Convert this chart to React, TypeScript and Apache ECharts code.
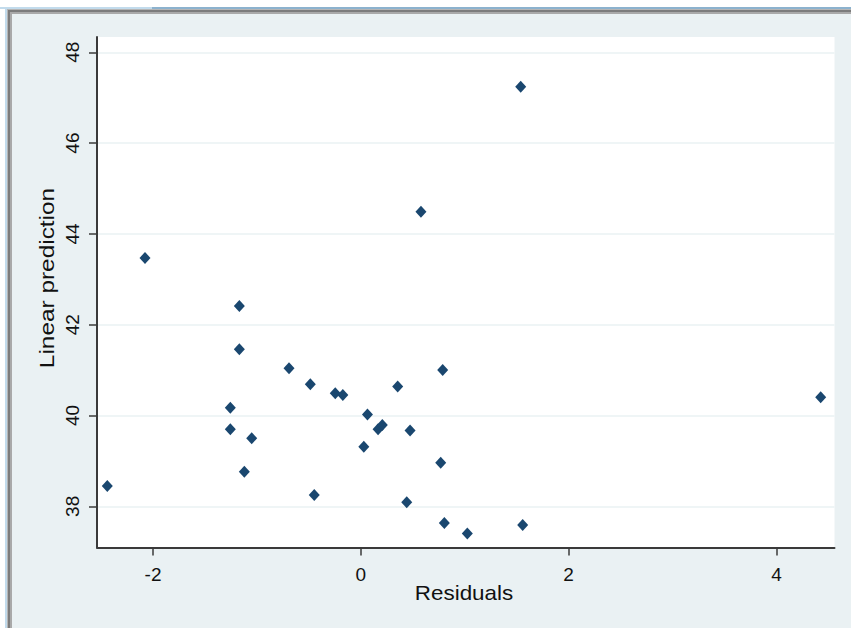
import React, { useEffect, useRef } from "react";
import * as echarts from "echarts";

// Residuals (x) and linear prediction (y)
const residuals = [
  -2.44, -2.077, -1.169, -1.169, -1.256, -1.256, -1.05, -1.121, -0.691, -0.486,
  -0.246, -0.173, -0.448, 0.064, 0.029, 0.166, 0.207, 0.355, 0.474, 0.442,
  0.579, 0.788, 0.769, 0.804, 1.025, 1.539, 1.558, 4.426,
];
const linearPrediction = [
  38.45, 43.47, 42.41, 41.46, 40.17, 39.7, 39.5, 38.76, 41.04, 40.69,
  40.49, 40.45, 38.25, 40.02, 39.31, 39.7, 39.79, 40.64, 39.67, 38.09,
  44.49, 41.0, 38.96, 37.63, 37.4, 47.24, 37.59, 40.4,
];
const xTicks = [-2, 0, 2, 4];
const yTicks = [38, 40, 42, 44, 46, 48];
const xTitle = "Residuals";
const yTitle = "Linear prediction";

const FONT = "'Liberation Sans', Arial, sans-serif";
const BG = "#EAF1F3";
const AXIS = "#3a3a3a";

export default function App() {
  const ref = useRef<HTMLDivElement>(null);

  useEffect(() => {
    if (!ref.current) return;
    const chart = echarts.init(ref.current, null, { renderer: "svg" });
    const data = residuals.map((x, i) => [x, linearPrediction[i]]);

    chart.setOption({
      animation: false,
      backgroundColor: BG,
      graphic: [
        // window chrome around the graph
        { type: "rect", shape: { x: 0, y: 0, width: 851, height: 7 }, style: { fill: "#ffffff" }, silent: true },
        { type: "rect", shape: { x: 0, y: 0, width: 5, height: 628 }, style: { fill: "#ffffff" }, silent: true },
        { type: "rect", shape: { x: 0, y: 7, width: 152, height: 2 }, style: { fill: "#C2DBEC" }, silent: true },
        { type: "rect", shape: { x: 152, y: 7, width: 699, height: 2 }, style: { fill: "#8CB2CE" }, silent: true },
        { type: "rect", shape: { x: 5, y: 9, width: 2, height: 619 }, style: { fill: "#C2DBEC" }, silent: true },
        { type: "rect", shape: { x: 7, y: 9, width: 844, height: 1 }, style: { fill: "#B5B5B5" }, silent: true },
        { type: "rect", shape: { x: 7, y: 10, width: 844, height: 2 }, style: { fill: "#7C7C7C" }, silent: true },
        { type: "rect", shape: { x: 7, y: 12, width: 844, height: 2 }, style: { fill: "#A9A9A9" }, silent: true },
        { type: "rect", shape: { x: 7, y: 9, width: 1, height: 619 }, style: { fill: "#B5B5B5" }, silent: true },
        { type: "rect", shape: { x: 8, y: 10, width: 2, height: 618 }, style: { fill: "#7C7C7C" }, silent: true },
        { type: "rect", shape: { x: 10, y: 12, width: 2, height: 616 }, style: { fill: "#A9A9A9" }, silent: true },
        // axis titles
        {
          type: "text",
          x: 464,
          y: 593,
          scaleX: 1.12,
          style: {
            text: xTitle,
            fontSize: 20,
            fontFamily: FONT,
            fill: "#111111",
            textAlign: "center",
            textVerticalAlign: "middle",
          },
        },
        {
          type: "text",
          x: 47,
          y: 278,
          rotation: Math.PI / 2,
          scaleX: 1.22,
          style: {
            text: yTitle,
            fontSize: 20,
            fontFamily: FONT,
            fill: "#111111",
            textAlign: "center",
            textVerticalAlign: "middle",
          },
        },
      ],
      grid: {
        left: 97,
        top: 37,
        width: 737.5,
        height: 510.5,
        show: true,
        backgroundColor: "#ffffff",
        borderWidth: 0,
      },
      xAxis: {
        type: "value",
        min: -2.539,
        max: 4.559,
        axisLine: { show: true, onZero: false, lineStyle: { color: AXIS, width: 2 } },
        axisTick: { show: true, customValues: xTicks, length: 8, lineStyle: { color: AXIS, width: 1.5 } },
        axisLabel: {
          customValues: xTicks,
          fontSize: 19,
          fontFamily: FONT,
          color: "#111111",
          margin: 17,
        },
        splitLine: { show: false },
      },
      yAxis: {
        type: "value",
        min: 37.093,
        max: 48.337,
        axisLine: { show: true, onZero: false, lineStyle: { color: AXIS, width: 2 } },
        axisTick: { show: true, customValues: yTicks, length: 8, lineStyle: { color: AXIS, width: 1.5 } },
        axisLabel: {
          customValues: yTicks,
          rotate: 90,
          fontSize: 19,
          fontFamily: FONT,
          color: "#111111",
          margin: 15,
        },
        splitLine: { show: true, lineStyle: { color: "#EAF2F3", width: 1.5 } },
      },
      series: [
        {
          type: "scatter",
          data,
          symbol: "diamond",
          symbolSize: [11, 12],
          itemStyle: { color: "#1A476F", opacity: 1 },
        },
      ],
    });

    return () => chart.dispose();
  }, []);

  return (
    <div
      ref={ref}
      style={{ position: "fixed", left: 0, top: 0, width: 851, height: 628 }}
    />
  );
}
